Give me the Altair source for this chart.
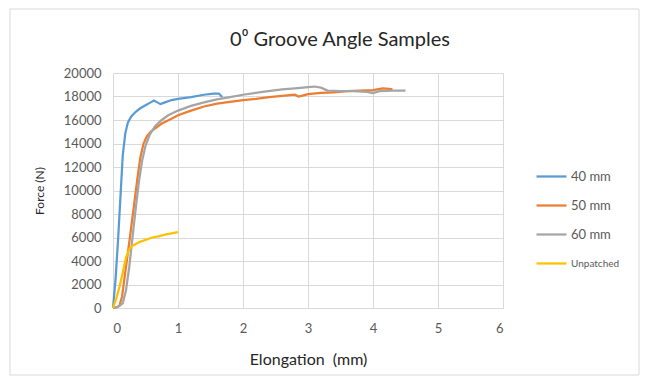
import altair as alt
import pandas as pd

series_names = ["40 mm", "50 mm", "60 mm", "Unpatched"]
colors = ["#5B9BD5", "#ED7D31", "#A5A5A5", "#FFC000"]
chart_title = "0\u2070 Groove Angle Samples"

x40 = [0, 0.04, 0.08, 0.12, 0.15, 0.19, 0.23, 0.28, 0.35, 0.42, 0.50, 0.58, 0.63, 0.68, 0.73, 0.80, 0.90, 1.0, 1.2, 1.4, 1.55, 1.63, 1.68]
y40 = [0, 2500, 6000, 10000, 13000, 14900, 15800, 16300, 16700, 17000, 17250, 17500, 17650, 17500, 17350, 17500, 17700, 17800, 17950, 18150, 18250, 18250, 17950]

x50 = [0, 0.05, 0.10, 0.14, 0.20, 0.26, 0.32, 0.37, 0.42, 0.47, 0.52, 0.58, 0.65, 0.75, 0.9, 1.0, 1.2, 1.4, 1.6, 1.8, 2.0, 2.2, 2.4, 2.6, 2.8, 2.85, 2.9, 3.0, 3.2, 3.4, 3.6, 3.8, 4.0, 4.15, 4.25, 4.3]
y50 = [0, 50, 200, 1000, 3500, 6000, 8600, 10800, 12800, 14000, 14600, 15000, 15300, 15700, 16100, 16400, 16800, 17150, 17400, 17550, 17700, 17800, 17950, 18050, 18150, 18000, 18050, 18200, 18300, 18350, 18450, 18500, 18550, 18700, 18650, 18600]

x60 = [0, 0.08, 0.15, 0.2, 0.25, 0.3, 0.35, 0.4, 0.45, 0.5, 0.57, 0.65, 0.75, 0.85, 1.0, 1.2, 1.4, 1.6, 1.8, 2.0, 2.3, 2.6, 2.8, 3.0, 3.1, 3.2, 3.3, 3.5, 3.7, 3.9, 4.0, 4.1, 4.3, 4.5]
y60 = [0, 100, 400, 1500, 3500, 6000, 8500, 10800, 12600, 13800, 14800, 15500, 16000, 16400, 16800, 17200, 17500, 17750, 17950, 18150, 18400, 18600, 18700, 18800, 18850, 18750, 18500, 18450, 18450, 18400, 18300, 18450, 18500, 18500]

xun = [0, 0.05, 0.10, 0.15, 0.20, 0.25, 0.30, 0.40, 0.50, 0.60, 0.70, 0.80, 0.90, 1.00]
yun = [0, 800, 1800, 3000, 4300, 5000, 5300, 5600, 5800, 6000, 6100, 6250, 6350, 6450]

x_ticks = [0, 1, 2, 3, 4, 5, 6]
y_ticks = list(range(0, 20001, 2000))

rows = []
for name, xs, ys in zip(series_names, [x40, x50, x60, xun], [y40, y50, y60, yun]):
    for i, (xv, yv) in enumerate(zip(xs, ys)):
        rows.append({"series": name, "x": xv, "y": yv, "i": i})
df = pd.DataFrame(rows)

font = "Lato"

lines = alt.Chart(df).mark_line(strokeWidth=2.25).encode(
    x=alt.X("x:Q", scale=alt.Scale(domain=[0, 6], nice=False),
            axis=alt.Axis(values=x_ticks, title="Elongation\u00a0\u00a0(mm)", grid=True,
                          gridColor="#d9d9d9", domain=True, domainColor="#d9d9d9",
                          ticks=False, labelPadding=14, labelFontSize=13,
                          labelColor="#595959", labelFont=font,
                          titleFont=font, titleFontSize=16, titleFontWeight="normal",
                          titleColor="#262626", titlePadding=16)),
    y=alt.Y("y:Q", scale=alt.Scale(domain=[0, 20000], nice=False),
            axis=alt.Axis(values=y_ticks, format="d", title="Force (N)", grid=True,
                          gridColor="#d9d9d9", domain=False, ticks=False,
                          labelPadding=12, labelFontSize=13, labelColor="#595959",
                          labelFont=font, titleFont=font, titleFontSize=12,
                          titleFontWeight="normal", titleColor="#262626",
                          titlePadding=17)),
    color=alt.Color("series:N", scale=alt.Scale(domain=series_names, range=colors),
                    legend=alt.Legend(title=None, orient="none", legendX=422, legendY=87,
                                      symbolType="stroke", symbolSize=900,
                                      symbolStrokeWidth=2.25, rowPadding=5,
                                      labelOffset=3,
                                      labelFontSize={"expr": "datum.label == 'Unpatched' ? 10 : 13"},
                                      labelColor="#595959", labelFont=font)),
    order="i:Q",
)

border = alt.Chart(alt.Data(values=[{"a": 1}])).mark_rect(
    fill="transparent", stroke="#d9d9d9", strokeWidth=1
).encode(
    x=alt.value(-103), x2=alt.value(526), y=alt.value(-64), y2=alt.value(302)
)

title = alt.Chart(alt.Data(values=[{"t": chart_title}])).mark_text(
    font=font, fontSize=20, color="#262626", align="center", baseline="middle"
).encode(
    x=alt.value(227), y=alt.value(-33), text="t:N"
)

chart = alt.layer(border, lines, title).properties(
    width=390, height=235,
    autosize=alt.AutoSizeParams(type="none"),
    padding={"left": 105, "top": 65, "right": 137, "bottom": 69},
).configure_view(stroke=None)

chart.save("out.html", embed_options={"renderer": "svg", "actions": False})
